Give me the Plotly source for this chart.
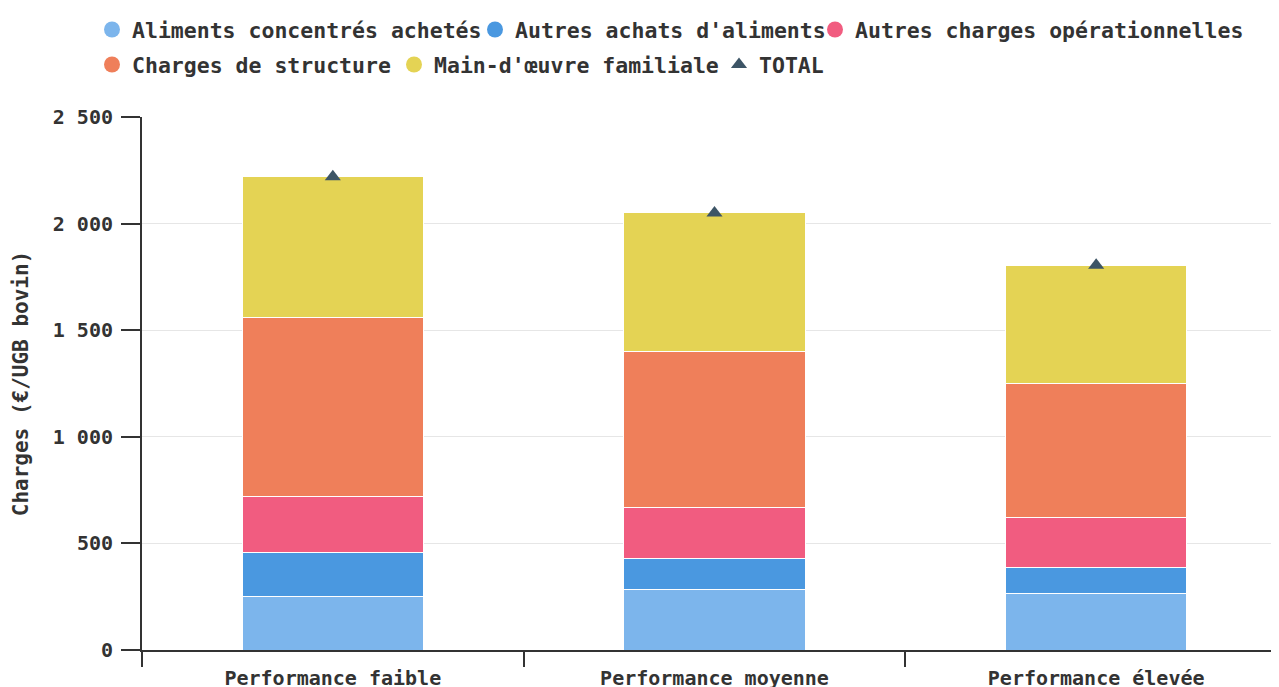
import plotly.graph_objects as go

categories = ["Performance faible", "Performance moyenne", "Performance élevée"]
aliments_concentres = [250, 285, 265]
autres_achats = [205, 145, 120]
autres_charges_op = [265, 240, 235]
charges_structure = [840, 730, 630]
main_oeuvre = [660, 650, 555]
total = [2220, 2050, 1805]

series_names = ["Aliments concentrés achetés", "Autres achats d'aliments",
                "Autres charges opérationnelles", "Charges de structure",
                "Main-d'œuvre familiale"]
series_values = [aliments_concentres, autres_achats, autres_charges_op,
                 charges_structure, main_oeuvre]
colors = ["#7cb5ec", "#4a98e0", "#f15c80", "#ef7f5a", "#e4d354"]

FONT = "DejaVu Sans Mono"
TXT = "#333333"
W, H = 1279, 687

# legend item placement (container pixels: x of item start, y of item top)
legend_pos = [(84, 1), (467, 1), (807, 1), (84, 36), (386, 36), (711, 36)]
legend_keys = ["legend", "legend2", "legend3", "legend4", "legend5", "legend6"]

fig = go.Figure()
for i, (name, vals, col) in enumerate(zip(series_names, series_values, colors)):
    fig.add_trace(go.Bar(
        x=categories, y=vals, name=name,
        marker=dict(color=col, line=dict(color="white", width=1)),
        width=0.475, showlegend=False, legendgroup=name,
    ))
    fig.add_trace(go.Scatter(
        x=[None], y=[None], mode="markers", name=name, legendgroup=name,
        legend=legend_keys[i], marker=dict(color=col, size=18, symbol="circle"),
        showlegend=True,
    ))

fig.add_trace(go.Scatter(
    x=categories, y=total, mode="markers", name="TOTAL", legend=legend_keys[5],
    marker=dict(symbol="triangle-up", size=14, color="#3d5566"),
))

legend_font = dict(family=FONT, size=21.5, color=TXT, weight="bold")
legends = {}
for key, (lx, ly) in zip(legend_keys, legend_pos):
    legends[key] = dict(orientation="h", xref="container", yref="container",
                        x=lx / W, y=1 - ly / H, xanchor="left", yanchor="top",
                        font=legend_font, itemsizing="trace",
                        bgcolor="rgba(0,0,0,0)")

tick_font = dict(family=FONT, size=20, color=TXT, weight="bold")
fig.update_layout(
    width=W, height=H,
    margin=dict(l=134, r=0, t=109, b=45),
    plot_bgcolor="white", paper_bgcolor="white",
    barmode="stack",
    font=dict(family=FONT, color=TXT, weight="bold"),
    xaxis=dict(type="category", range=[-0.5, 2.5], tickson="boundaries", ticks="outside",
               ticklen=15, tickwidth=2, tickcolor="#333", showline=True, linecolor="#333",
               linewidth=2, showgrid=False, tickfont=tick_font, ticklabelstandoff=9),
    yaxis=dict(range=[0, 2500], tickvals=[0, 500, 1000, 1500, 2000, 2500],
               ticktext=["0", "500", "1 000", "1 500", "2 000", "2 500"],
               ticks="outside", ticklen=19, tickwidth=2, tickcolor="#333",
               ticklabelstandoff=4,
               showline=True, linecolor="#333", linewidth=2,
               showgrid=True, gridcolor="#e6e6e6", gridwidth=1, zeroline=False,
               tickfont=tick_font,
               title=dict(text="Charges (€/UGB bovin)", standoff=18,
                          font=dict(family=FONT, size=21, color=TXT, weight="bold"))),
    **legends,
)

fig.write_html("out.html")
